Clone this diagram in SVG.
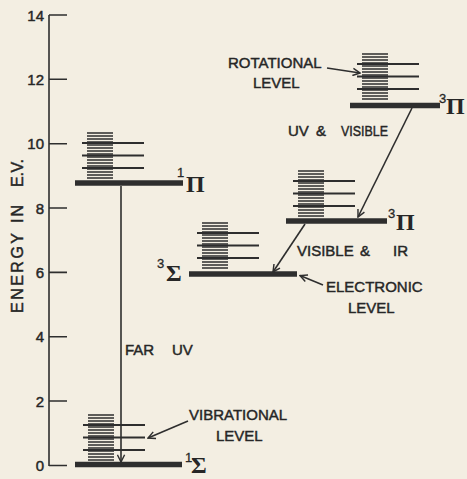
<svg xmlns="http://www.w3.org/2000/svg" xmlns:xlink="http://www.w3.org/1999/xlink" width="467" height="479" viewBox="0 0 467 479">
<style>
.bg{fill:#f3eee2}
.ln{stroke:#2e2e2e;fill:none}
.bar{stroke:#2e2e2e;stroke-width:5.5;fill:none}
.d{stroke:#2e2e2e;stroke-width:1.3}
.lg{stroke:#2e2e2e;stroke-width:1.8}
.t{font-family:"Liberation Sans",Arial,sans-serif;font-size:15px;fill:#262626;stroke:#262626;stroke-width:0.45}
.sup{font-family:"Liberation Sans",Arial,sans-serif;font-size:13px;fill:#262626;stroke:#262626;stroke-width:0.3}
.g{font-family:"Liberation Serif","Times New Roman",serif;font-weight:bold;font-size:24px;fill:#262626}
</style>
<defs>
<marker id="ah" viewBox="0 0 10 10" refX="9" refY="5" markerWidth="9" markerHeight="9" markerUnits="userSpaceOnUse" orient="auto">
<path d="M1,1 L9,5 L1,9" fill="none" stroke="#2e2e2e" stroke-width="1.6"/>
</marker>
<g id="stack">
<path class="d" d="M0,0h26M0,3h26M0,6h26M0,9h26M0,12h26M0,15h26M0,18h26M0,21h26M0,24h26M0,27h26M0,30h26M0,33h26M0,36h26M0,39h26M0,42h26M0,45h26"/>
<path class="lg" d="M-5,10h62M-5,22.5h62M-5,35h62"/>
</g>
</defs>
<rect class="bg" x="0" y="0" width="467" height="479"/>

<g id="axis">
<path class="ln" stroke-width="1.6" d="M49,15V466M49,15h18M49,79.3h18M49,143.7h18M49,208h18M49,272.4h18M49,336.8h18M49,401h18M49,465.5h18"/>
<g class="t" text-anchor="end">
<text x="44" y="20.5">14</text>
<text x="44" y="84.8">12</text>
<text x="44" y="149.2">10</text>
<text x="44" y="213.5">8</text>
<text x="44" y="277.9">6</text>
<text x="44" y="342.3">4</text>
<text x="44" y="406.5">2</text>
<text x="44" y="471">0</text>
</g>
<g class="t" style="font-size:16px" transform="translate(23,313) rotate(-90)">
<text x="0" y="0" textLength="80" lengthAdjust="spacing">ENERGY</text>
<text x="90" y="0" textLength="18" lengthAdjust="spacing">IN</text>
<text x="126" y="0" textLength="28" lengthAdjust="spacing">E.V.</text>
</g>
</g>

<g id="level-1Sigma">
<use xlink:href="#stack" x="88" y="415"/>
<path class="bar" d="M75,464.5H182"/>
<text class="sup" x="185" y="462">1</text>
<text class="g" x="191" y="473">Σ</text>
</g>

<g id="level-1Pi">
<use xlink:href="#stack" x="87" y="133"/>
<path class="bar" d="M75,183H183"/>
<text class="sup" x="177" y="177">1</text>
<text class="g" x="186" y="192">Π</text>
</g>

<g id="level-3Sigma">
<use xlink:href="#stack" x="202" y="223"/>
<path class="bar" d="M189,274H297"/>
<text class="sup" x="157" y="268">3</text>
<text class="g" x="166" y="281">Σ</text>
</g>

<g id="level-3Pi-mid">
<use xlink:href="#stack" x="298" y="171"/>
<path class="bar" d="M286,221H387"/>
<text class="sup" x="388" y="218">3</text>
<text class="g" x="396" y="230">Π</text>
</g>

<g id="level-3Pi-top">
<use xlink:href="#stack" x="362" y="54"/>
<path class="bar" d="M350,105.5H440"/>
<text class="sup" x="439" y="103">3</text>
<text class="g" x="446" y="114">Π</text>
</g>

<g id="connectors" class="ln" stroke-width="1.6">
<path d="M121,186V462" marker-end="url(#ah)"/>
<path d="M412,108L358,217" marker-end="url(#ah)"/>
<path d="M305,224L273,272" marker-end="url(#ah)"/>
<path d="M327,68L360,73" marker-end="url(#ah)"/>
<path d="M323,285L300,275.5" marker-end="url(#ah)"/>
<path d="M188,421L148,438" marker-end="url(#ah)"/>
</g>

<g id="labels" class="t">
<text x="125" y="355">FAR</text>
<text x="172" y="355">UV</text>
<text x="288" y="136">UV</text>
<text x="316" y="136">&amp;</text>
<text x="341" y="136" textLength="47" lengthAdjust="spacingAndGlyphs">VISIBLE</text>
<text x="297" y="256">VISIBLE</text>
<text x="360" y="256">&amp;</text>
<text x="393" y="256">IR</text>
<text x="228" y="68">ROTATIONAL</text>
<text x="253" y="88">LEVEL</text>
<text x="326" y="292">ELECTRONIC</text>
<text x="348" y="313">LEVEL</text>
<text x="189" y="420">VIBRATIONAL</text>
<text x="216" y="441">LEVEL</text>
</g>
</svg>
